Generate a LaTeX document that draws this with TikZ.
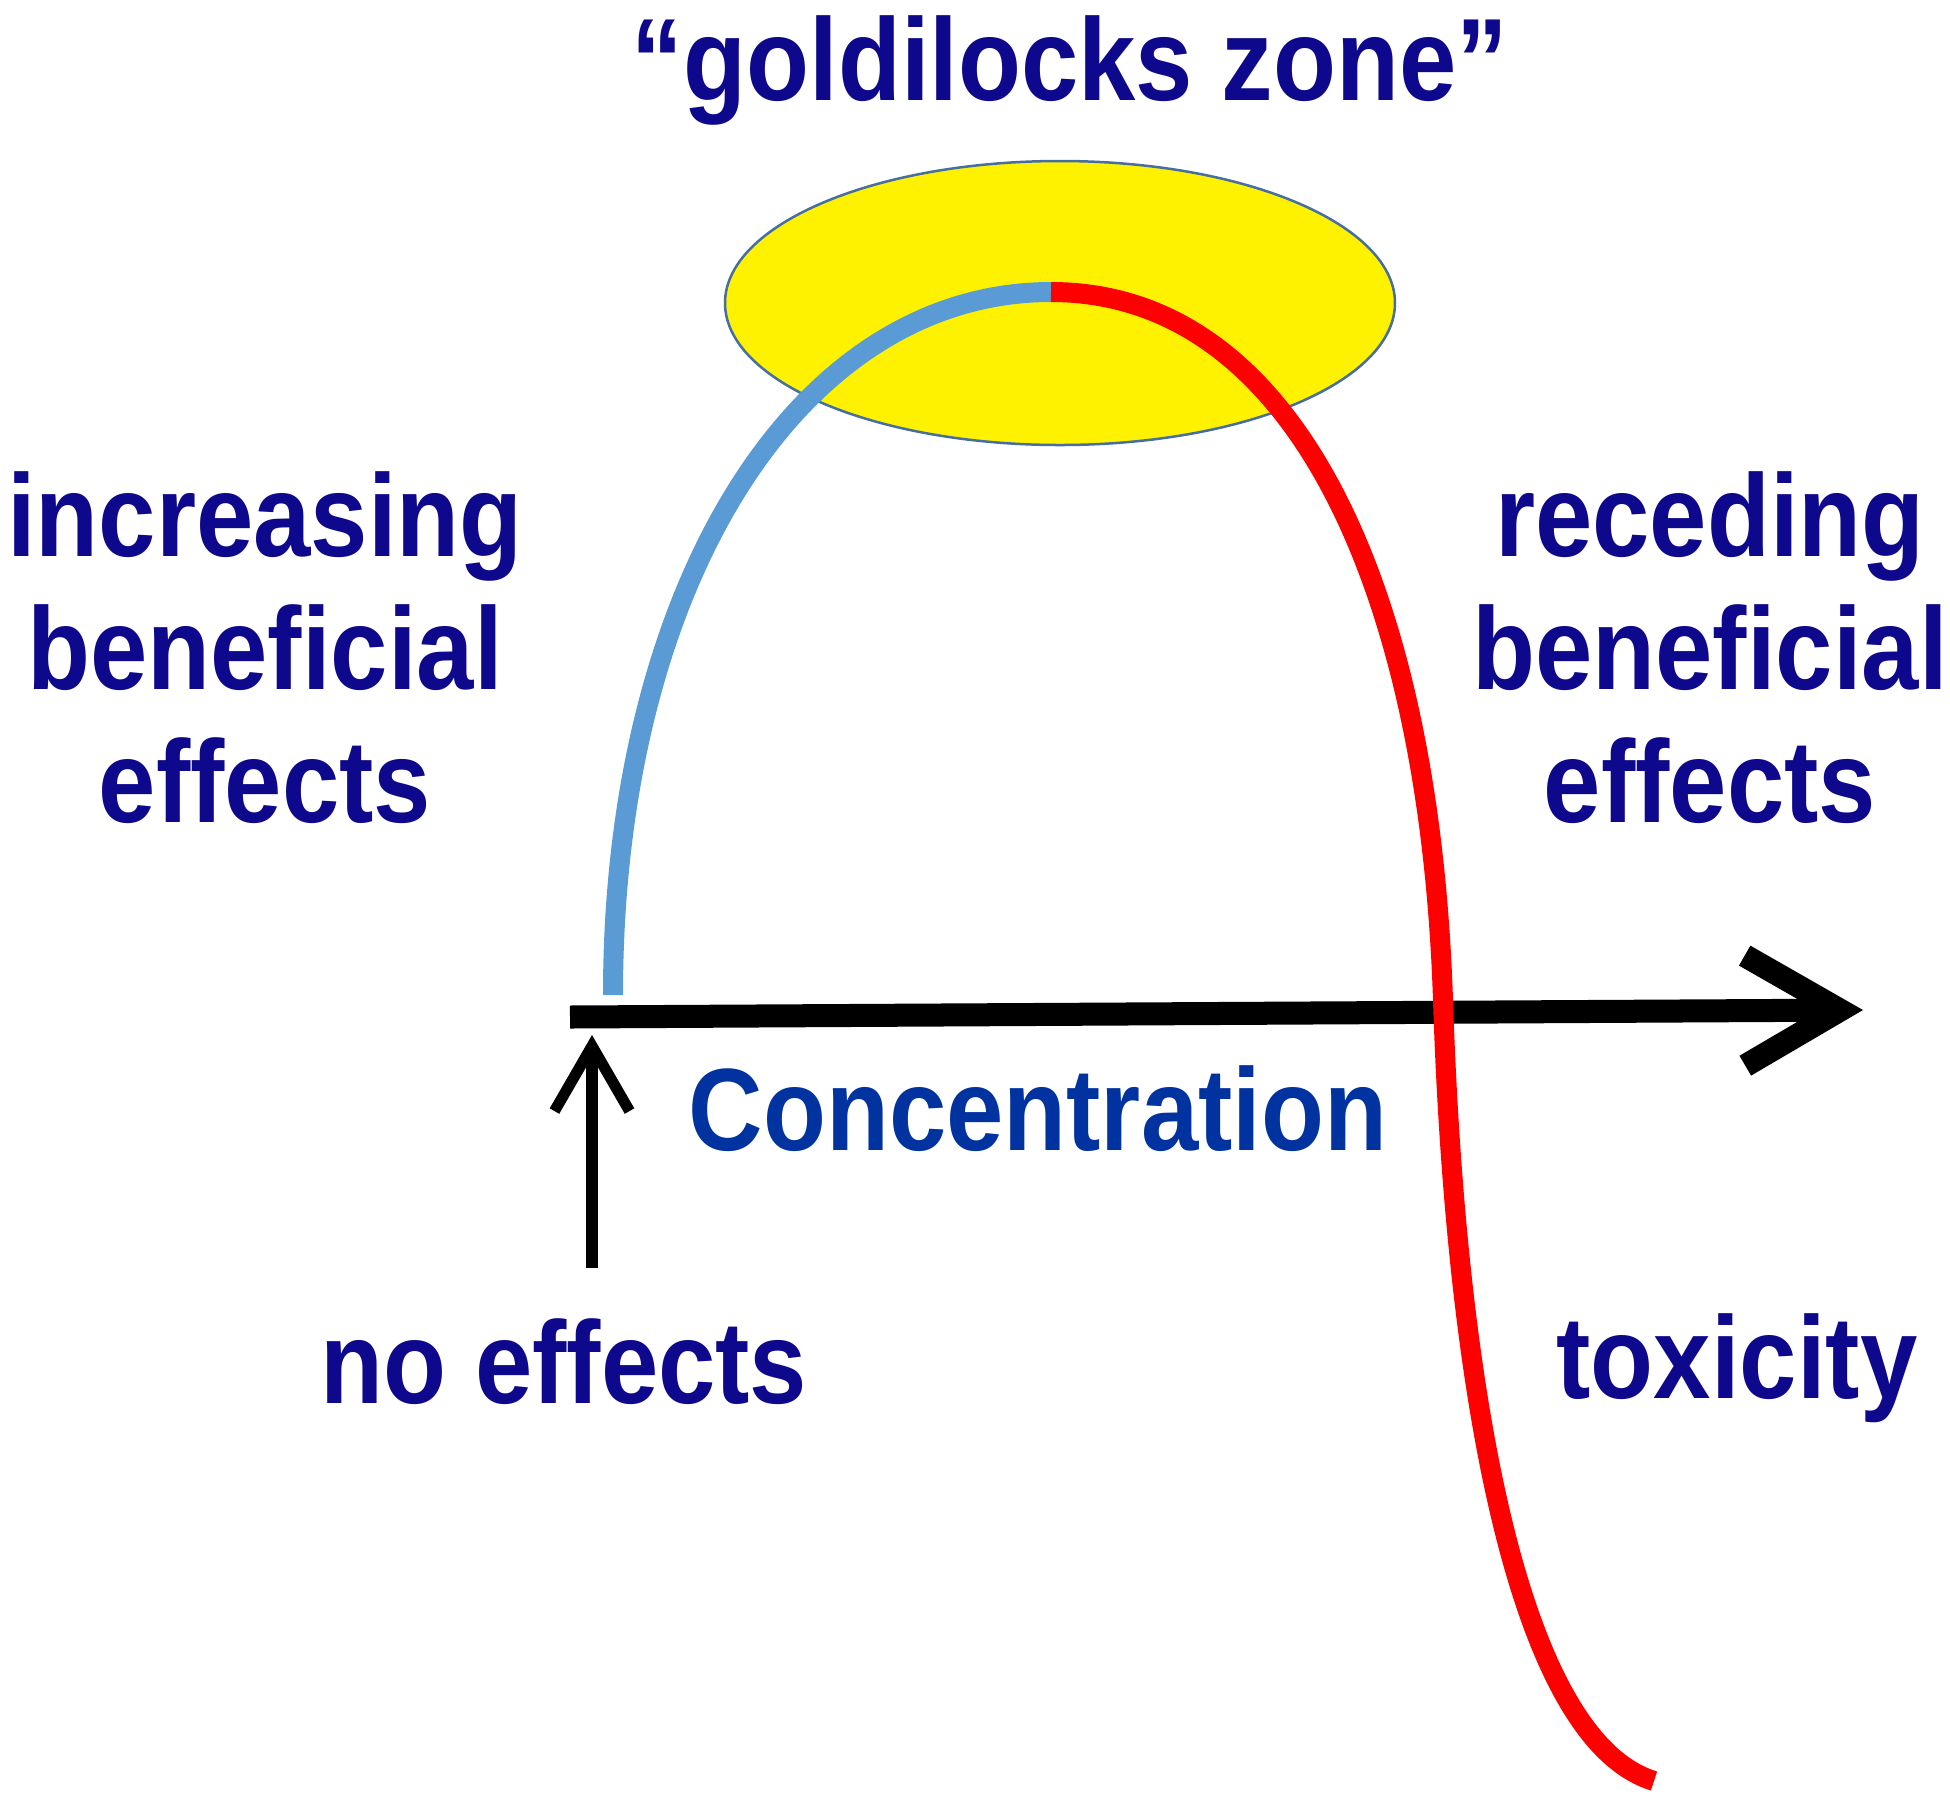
\documentclass[tikz,border=0pt]{standalone}
\usepackage{fontspec}
\newfontfamily\gzfont[FakeStretch=0.88]{Liberation Sans}
\usetikzlibrary{arrows.meta}
\definecolor{gznavy}{RGB}{14,8,140}
\definecolor{concblue}{RGB}{0,50,160}
\definecolor{risecol}{RGB}{91,155,213}
\definecolor{zoneedge}{RGB}{70,110,160}

\begin{document}
\begin{tikzpicture}[x=0.01cm,y=-0.01cm,
  lbl/.style={inner sep=0pt,text=gznavy,align=center,anchor=base,
    font=\gzfont\bfseries\fontsize{33.3}{37.8}\selectfont},
  zone/.style={fill=yellow,draw=zoneedge,line width=0.25mm},
  curve/.style={line width=2mm},
  axis/.style={line width=2.3mm,-{Straight Barb[length=9.5mm,width=11mm]}},
  pointer/.style={line width=1.1mm,-{Straight Barb[length=6.5mm,width=7.5mm]}}]

  \useasboundingbox (0,0) rectangle (1950,1808);

  \draw[zone] (1060,303) ellipse [x radius=335,y radius=142];

  \node[lbl] (title) at (1070,100) {“goldilocks zone”};
  \node[lbl] (rise) at (265,822) {increasing\\beneficial\\effects};
  \node[lbl] (recede) at (1710,822) {receding\\beneficial\\effects};
  \node[lbl,text=concblue] (conc) at (1038,1150) {Concentration};
  \node[lbl] (noeff) at (564,1403) {no effects};
  \node[lbl] (tox) at (1737,1398) {toxicity};

  \coordinate (axisL) at (570,1017);
  \coordinate (axisR) at (1863,1010);
  \coordinate (ptrB) at (592,1268);
  \coordinate (ptrT) at (592,1035);
  \coordinate (apex) at (1051,292);

  \draw[axis] (axisL) -- (axisR);
  \draw[pointer] (ptrB) -- (ptrT);

  \draw[curve,risecol] (613,995) .. controls (613,590) and (795,292) .. (apex);
  \draw[curve,red] (apex) .. controls (1300,292) and (1430,600) .. (1443,1000)
    .. controls (1456,1400) and (1520,1740) .. (1654,1781);
\end{tikzpicture}
\end{document}
